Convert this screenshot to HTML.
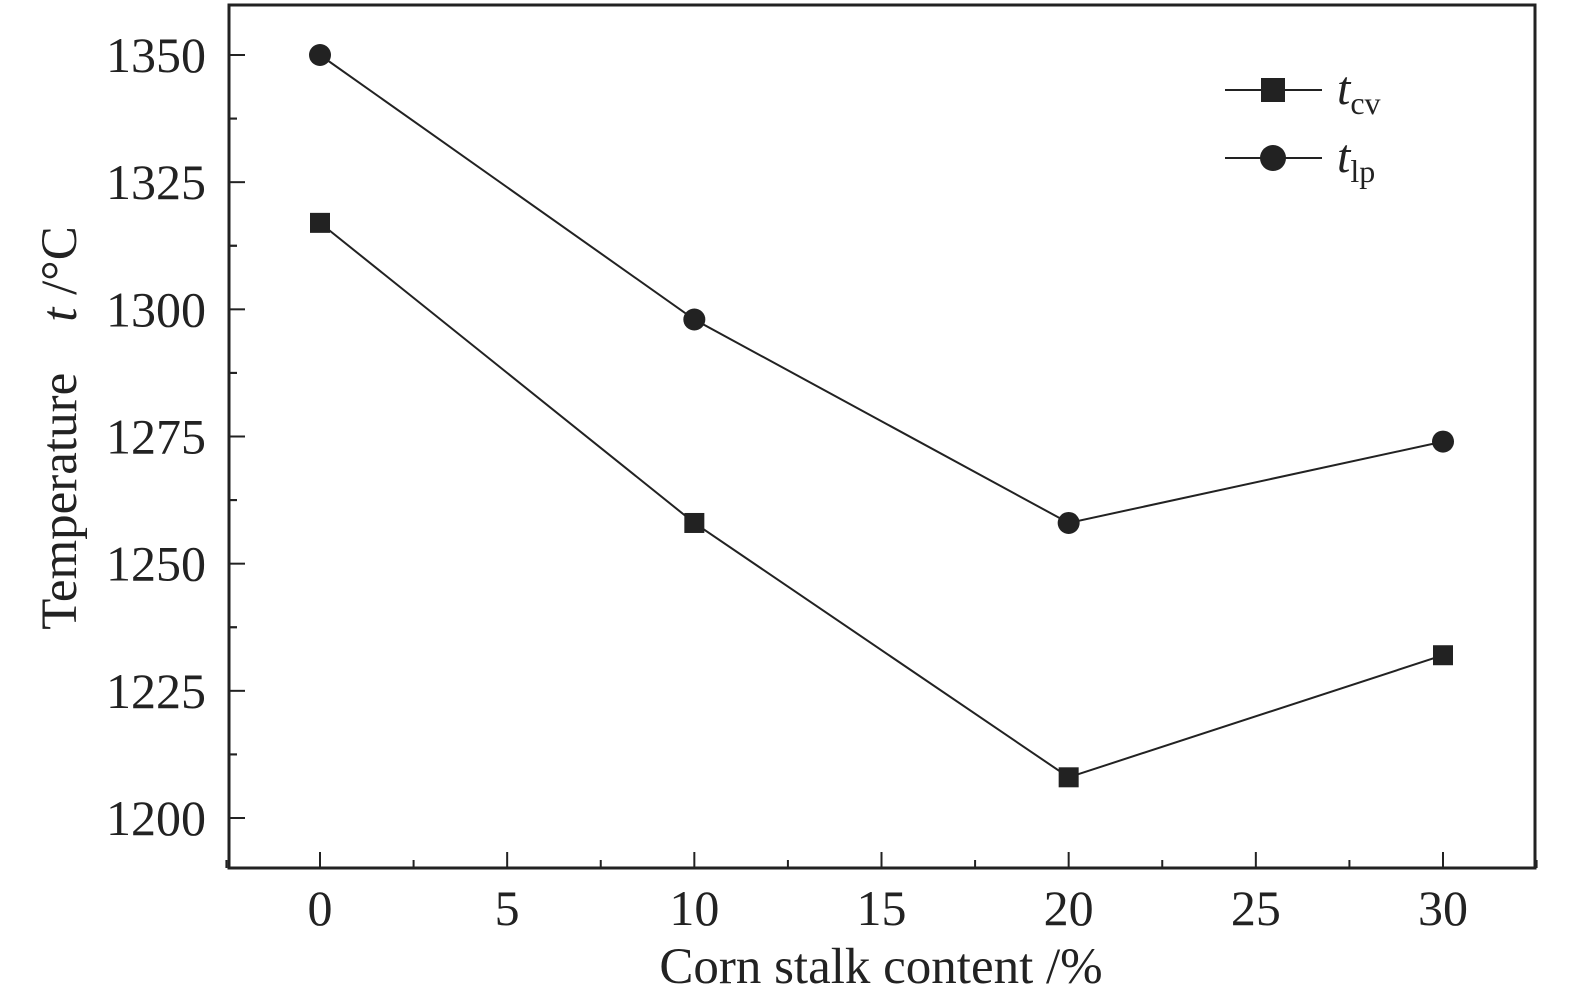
<!DOCTYPE html>
<html><head><meta charset="utf-8"><style>
html,body{margin:0;padding:0;background:#fff;}
svg{display:block;font-family:"Liberation Serif",serif;}
</style></head><body>
<svg id="chart" width="1575" height="1006" viewBox="0 0 1575 1006" xmlns="http://www.w3.org/2000/svg">
<rect x="229" y="5" width="1306" height="863" fill="none" stroke="#222" stroke-width="3"/>
<g id="ticks"></g>
<g id="series"></g>
<text x="881" y="983" font-size="51" text-anchor="middle" fill="#222">Corn stalk content /%</text>
<text transform="translate(76,428) rotate(-90)" font-size="51" text-anchor="middle" fill="#222">Temperature&#160;&#160;&#160;&#160;<tspan font-style="italic">t</tspan> /°C</text>
<g>
<line x1="1225" y1="90" x2="1322" y2="90" stroke="#222" stroke-width="2"/>
<rect x="1261" y="78" width="24" height="24" fill="#222"/>
<text x="1337" y="104" font-size="48" font-style="italic" fill="#222">t<tspan font-style="normal" font-size="32" dy="10">cv</tspan></text>
<line x1="1225" y1="158" x2="1322" y2="158" stroke="#222" stroke-width="2"/>
<circle cx="1273" cy="158" r="13" fill="#222"/>
<text x="1337" y="172" font-size="48" font-style="italic" fill="#222">t<tspan font-style="normal" font-size="32" dy="10">lp</tspan></text>
</g>
</svg>
<script>
const categories = [0, 10, 20, 30];
const tcvValues = [1317, 1258, 1208, 1232];
const tlpValues = [1350, 1298, 1258, 1274];
const xTicks = [0, 5, 10, 15, 20, 25, 30];
const yTicks = [1200, 1225, 1250, 1275, 1300, 1325, 1350];

const NS = "http://www.w3.org/2000/svg";
function xs(v){ return 320 + (v - 0) * (1443 - 320) / 30; }
function ys(v){ return 818 - (v - 1200) * (818 - 55) / 150; }
function mk(tag, attrs, parent){
  const e = document.createElementNS(NS, tag);
  for (const k in attrs) e.setAttribute(k, attrs[k]);
  parent.appendChild(e); return e;
}
const ticks = document.getElementById('ticks');
const B = 868, L = 229;
xTicks.forEach(v => {
  const t = mk('line', {x1: xs(v), x2: xs(v), y1: B, y2: B - 16, stroke: '#222', 'stroke-width': 2}, ticks);
  
  
  const m = mk('line', {x1: xs(v + 2.5), x2: xs(v + 2.5), y1: B, y2: B - 8, stroke: '#222', 'stroke-width': 2}, ticks);
  
  
  const l = mk('text', {x: xs(v), y: 925, 'font-size': 50, 'text-anchor': 'middle', fill: '#222'}, ticks);
  l.textContent = v;
  
  
});
{
  const m = mk('line', {x1: xs(-2.5), x2: xs(-2.5), y1: B, y2: B - 8, stroke: '#222', 'stroke-width': 2}, ticks);
  
  
}
yTicks.forEach(v => {
  const t = mk('line', {x1: L, x2: L + 16, y1: ys(v), y2: ys(v), stroke: '#222', 'stroke-width': 2}, ticks);
  
  
  [v - 12.5, v + 12.5].forEach(mv => {
    const y = ys(mv);
    if (y > 8 && y < B - 3) {
      const m = mk('line', {x1: L, x2: L + 8, y1: y, y2: y, stroke: '#222', 'stroke-width': 2}, ticks);
      
      
    }
  });
  const l = mk('text', {x: 206, y: ys(v) + 17, 'font-size': 50, 'text-anchor': 'end', fill: '#222'}, ticks);
  l.textContent = v;
  
  
});
const series = document.getElementById('series');
function drawLine(vals, name){
  const p = mk('polyline', {points: categories.map((c,i) => xs(c) + ',' + ys(vals[i])).join(' '), fill: 'none', stroke: '#222', 'stroke-width': 2}, series);
  
  
}
drawLine(tcvValues, 'tcv');
drawLine(tlpValues, 'tlp');
categories.forEach((c, i) => {
  const r = mk('rect', {x: xs(c) - 10, y: ys(tcvValues[i]) - 10, width: 20, height: 20, fill: '#222'}, series);
  
  
  const ci = mk('circle', {cx: xs(c), cy: ys(tlpValues[i]), r: 11, fill: '#222'}, series);
  
  
});
</script>
</body></html>
